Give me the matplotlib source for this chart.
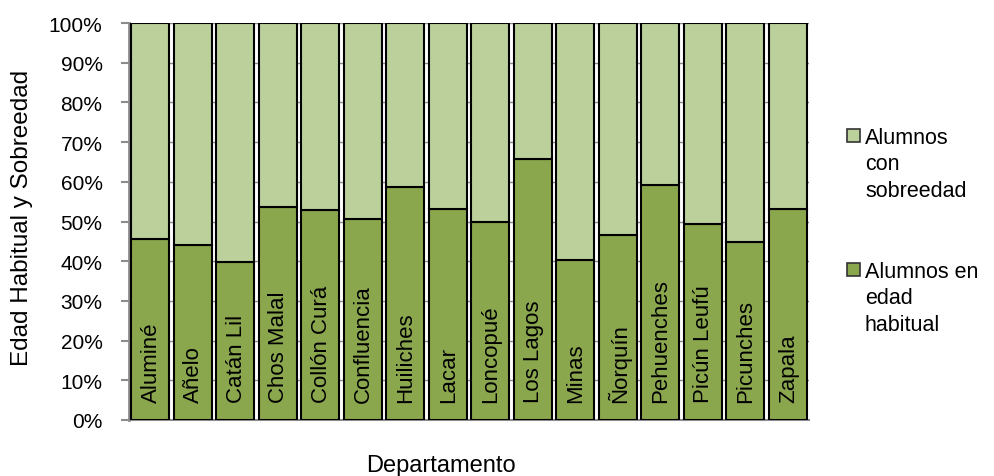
import matplotlib
matplotlib.use("Agg")
import matplotlib.pyplot as plt
from matplotlib.patches import Rectangle

plt.rcParams['font.family'] = ['Liberation Sans', 'DejaVu Sans']

departamentos = ["Aluminé", "Añelo", "Catán Lil", "Chos Malal", "Collón Curá",
                 "Confluencia", "Huiliches", "Lacar", "Loncopué", "Los Lagos",
                 "Minas", "Ñorquín", "Pehuenches", "Picún Leufú", "Picunches", "Zapala"]
edad_habitual = [45.7, 44.0, 39.8, 53.6, 52.9, 50.7, 58.7, 53.2, 50.0, 65.8,
                 40.3, 46.7, 59.2, 49.3, 44.9, 53.1]
sobreedad = [100 - v for v in edad_habitual]
yticks = [0, 10, 20, 30, 40, 50, 60, 70, 80, 90, 100]
ytick_labels = [f"{t}%" for t in yticks]
legend_labels = [["Alumnos", "con", "sobreedad"], ["Alumnos en", "edad", "habitual"]]

dark = "#8BA74E"
light = "#BCD09B"
grey = "#8C8C8C"

W, H = 994, 477
fig = plt.figure(figsize=(W / 100, H / 100), dpi=100)
ax = fig.add_axes([129 / W, 1 - 421 / H, (809 - 129) / W, (421 - 24) / H])

x = list(range(len(departamentos)))
ax.bar(x, edad_habitual, width=0.9, color=dark, edgecolor="black", linewidth=1.5, zorder=3)
ax.bar(x, sobreedad, bottom=edad_habitual, width=0.9, color=light, edgecolor="black",
       linewidth=1.5, zorder=3)

for xi, name in zip(x, departamentos):
    ax.text(xi + 0.02, 4.6, name, rotation=90, ha="center", va="bottom", fontsize=16,
            zorder=4)

ax.set_xlim(-0.5, len(departamentos) - 0.5)
ax.set_ylim(0, 100)
ax.set_yticks(yticks)
ax.set_yticklabels(ytick_labels, fontsize=15)
ax.set_xticks([])
ax.yaxis.grid(True, color=grey, linewidth=1.0, zorder=0)
ax.set_axisbelow(True)
for s in ["top", "right"]:
    ax.spines[s].set_visible(False)
ax.spines["left"].set_color(grey)
ax.spines["left"].set_linewidth(2)
ax.spines["bottom"].set_color(grey)
ax.spines["bottom"].set_linewidth(1.5)
ax.tick_params(axis="y", length=6, width=1.5, color=grey, pad=13)

fig.text(22 / W, 1 - 218 / H, "Edad Habitual y Sobreedad", rotation=90, ha="center",
         va="center", fontsize=17.5)
fig.text(441 / W, 1 - 472 / H, "Departamento", ha="center", va="baseline", fontsize=17)

# legend
colors = [light, dark]
baselines = [144, 278]
for col, lines, base in zip(colors, legend_labels, baselines):
    fig.patches.append(Rectangle((847 / W, 1 - (base - 1) / H), 13 / W, 13 / H,
                                 transform=fig.transFigure, facecolor=col,
                                 edgecolor="#333333", linewidth=1.2))
    for i, ln in enumerate(lines):
        fig.text(865 / W, 1 - (base + 26.5 * i) / H, ln, ha="left", va="baseline",
                 fontsize=15.5)

fig.savefig("out.png", dpi=100)
